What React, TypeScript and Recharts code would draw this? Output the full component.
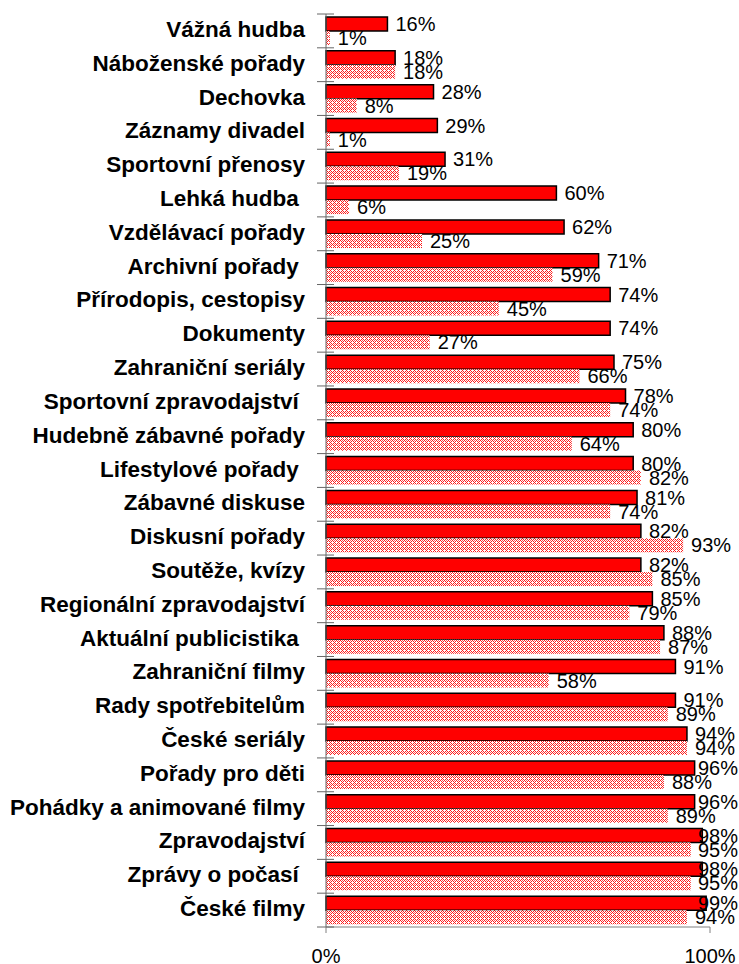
import React from 'react';
import { BarChart, Bar, XAxis, YAxis, LabelList } from 'recharts';

const categories = [
  'Vážná hudba',
  'Náboženské pořady',
  'Dechovka',
  'Záznamy divadel',
  'Sportovní přenosy',
  'Lehká hudba ',
  'Vzdělávací pořady',
  'Archivní pořady ',
  'Přírodopis, cestopisy',
  'Dokumenty',
  'Zahraniční seriály',
  'Sportovní zpravodajství ',
  'Hudebně zábavné pořady',
  'Lifestylové pořady ',
  'Zábavné diskuse',
  'Diskusní pořady',
  'Soutěže, kvízy',
  'Regionální zpravodajství',
  'Aktuální publicistika ',
  'Zahraniční filmy',
  'Rady spotřebitelům',
  'České seriály',
  'Pořady pro děti',
  'Pohádky a animované filmy',
  'Zpravodajství',
  'Zprávy o počasí ',
  'České filmy',
];

const seriesA = [16, 18, 28, 29, 31, 60, 62, 71, 74, 74, 75, 78, 80, 80, 81, 82, 82, 85, 88, 91, 91, 94, 96, 96, 98, 98, 99];
const seriesB = [1, 18, 8, 1, 19, 6, 25, 59, 45, 27, 66, 74, 64, 82, 74, 93, 85, 79, 87, 58, 89, 94, 88, 89, 95, 95, 94];

const xTicks = [0, 100];

const data = categories.map((name, i) => ({ name, a: seriesA[i], b: seriesB[i] }));

const FONT = "'Liberation Sans', Arial, Helvetica, sans-serif";
const CHART_W = 739;

const CategoryTick = (props: any) => {
  const { x, y, payload, index } = props;
  const half = payload && typeof payload.offset === 'number' && payload.offset > 0 ? payload.offset : 16.9;
  const isLast = index === categories.length - 1;
  return (
    <g>
      <text
        x={x - 21}
        y={y}
        dy={6}
        textAnchor="end"
        fontFamily={FONT}
        fontWeight="bold"
        fontSize={22.5}
        fill="#000"
        style={{ whiteSpace: 'pre' }}
      >
        {payload.value}
      </text>
      <line x1={x - 9} x2={x + 8} y1={y - half} y2={y - half} stroke="#666" strokeWidth={1} />
      {isLast && <line x1={x - 9} x2={x + 8} y1={y + half} y2={y + half} stroke="#666" strokeWidth={1} />}
    </g>
  );
};

const pct = (v: any) => `${v}%`;

const ValueLabel = (props: any) => {
  const { x, y, width, height, value } = props;
  const text = `${value}%`;
  const digits = String(value).length;
  const w = digits * 11.12 + 17.78;
  let tx = Number(x) + Number(width) + 8;
  if (tx + w > CHART_W - 1) tx = CHART_W - 1 - w;
  return (
    <text
      x={tx}
      y={Number(y) + Number(height) / 2}
      dy="0.355em"
      fontFamily={FONT}
      fontSize={20}
      fill="#000"
    >
      {text}
    </text>
  );
};

export default function App() {
  return (
    <div style={{ position: 'absolute', left: 0, top: 0, width: 739, height: 964, background: '#fff' }}>
      <BarChart
        width={CHART_W}
        height={964}
        data={data}
        layout="vertical"
        margin={{ top: 14, right: 29, left: 0, bottom: 7 }}
        barCategoryGap={3}
        barGap={0}
      >
        <defs>
          <pattern id="hatch" width="4" height="4" patternUnits="userSpaceOnUse">
            <rect x="0" y="0" width="4" height="4" fill="#ffffff" />
            <rect x="0" y="0" width="1" height="1" fill="#ff1a1a" />
            <rect x="1" y="1" width="1" height="1" fill="#ff1a1a" />
            <rect x="2" y="2" width="1" height="1" fill="#ff1a1a" />
            <rect x="3" y="3" width="1" height="1" fill="#ff1a1a" />
            <rect x="1" y="3" width="1" height="1" fill="#ff1a1a" />
            <rect x="3" y="1" width="1" height="1" fill="#ff1a1a" />
            <rect x="2" y="0" width="1" height="1" fill="#ff6060" />
          </pattern>
        </defs>
        <XAxis
          type="number"
          domain={[0, 100]}
          ticks={xTicks}
          tickFormatter={pct}
          height={30}
          tickSize={6}
          tickMargin={16}
          stroke="#808080"
          tick={{ fill: '#000', fontSize: 20, fontFamily: FONT }}
          interval={0}
        />
        <YAxis
          type="category"
          dataKey="name"
          width={326}
          tickLine={false}
          tickSize={0}
          tickMargin={0}
          stroke="#666"
          interval={0}
          tick={<CategoryTick />}
        />
        <Bar dataKey="a" fill="#ff0000" stroke="#000" strokeWidth={1.5} isAnimationActive={false}>
          <LabelList dataKey="a" content={<ValueLabel />} />
        </Bar>
        <Bar dataKey="b" fill="url(#hatch)" isAnimationActive={false}>
          <LabelList dataKey="b" content={<ValueLabel />} />
        </Bar>
      </BarChart>
    </div>
  );
}
